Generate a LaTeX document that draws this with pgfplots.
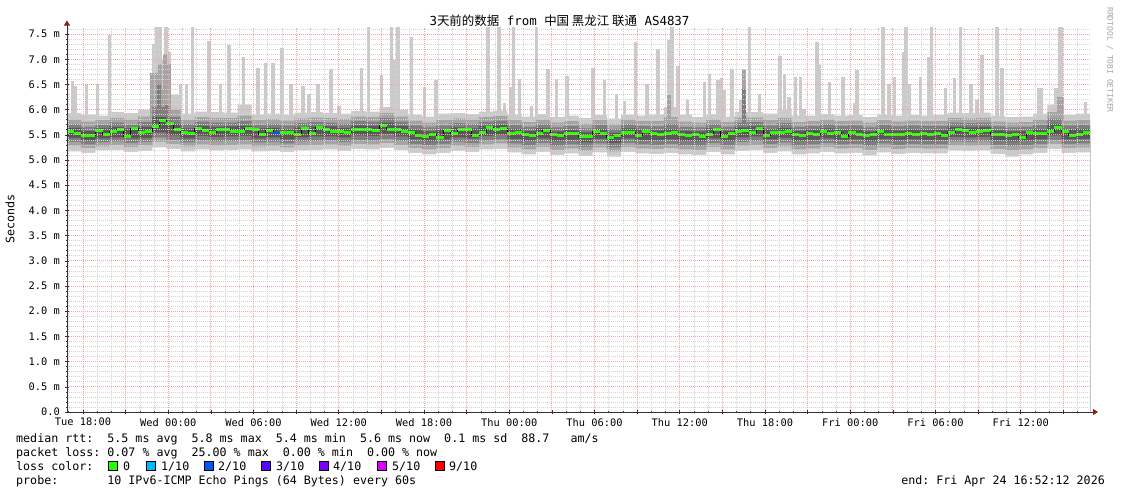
\documentclass[border=0pt]{standalone}
\usepackage{fontspec}
\setmainfont{DejaVu Sans Mono}
\newfontfamily\cjk{Noto Sans CJK SC}
\usepackage{pgfplots}
\usepackage{pgfplotstable}
\pgfplotsset{compat=1.18}
\usetikzlibrary{arrows.meta}

\definecolor{s1}{RGB}{202,202,202}
\definecolor{s2}{RGB}{164,164,164}
\definecolor{s3}{RGB}{126,126,126}
\definecolor{s4}{RGB}{88,88,88}
\definecolor{rttgreen}{RGB}{38,255,0}
\definecolor{loss1}{RGB}{0,184,255}
\definecolor{loss2}{RGB}{0,89,255}
\definecolor{loss3}{RGB}{94,0,255}
\definecolor{loss4}{RGB}{126,0,255}
\definecolor{loss5}{RGB}{221,0,255}
\definecolor{loss9}{RGB}{255,0,0}
\definecolor{gridred}{RGB}{250,165,165}
\definecolor{gridgray}{RGB}{212,212,212}
\definecolor{arrowred}{RGB}{140,30,30}

% x unit = one half-hour step, 0 = Tue 16:52, 144 = Fri 16:52
% smoke bands, one row per hour: ping 1,2,3,4 below and 7,8,9,10 above the median
\pgfplotstableread{
x p1 p2 p3 p4 p7 p8 p9 p10
0 5.17 5.28 5.36 5.44 5.64 5.71 5.80 5.93
2 5.14 5.24 5.31 5.39 5.58 5.66 5.76 5.90
4 5.19 5.27 5.35 5.43 5.63 5.70 5.79 5.88
6 5.20 5.30 5.37 5.45 5.66 5.74 5.83 5.95
8 5.16 5.26 5.34 5.43 5.63 5.70 5.80 5.93
10 5.18 5.29 5.36 5.44 5.66 5.75 5.86 6.00
12 5.25 5.36 5.45 5.55 5.85 6.05 6.40 7.00
14 5.22 5.32 5.40 5.49 5.72 5.85 6.00 6.30
16 5.17 5.27 5.35 5.43 5.63 5.71 5.80 5.92
18 5.21 5.31 5.39 5.48 5.68 5.76 5.85 5.96
20 5.19 5.29 5.37 5.46 5.66 5.74 5.83 5.95
22 5.20 5.30 5.38 5.47 5.67 5.74 5.83 5.94
24 5.21 5.31 5.39 5.48 5.68 5.77 5.88 6.10
26 5.17 5.27 5.35 5.43 5.63 5.70 5.79 5.90
28 5.18 5.28 5.36 5.45 5.64 5.72 5.81 5.92
30 5.16 5.25 5.33 5.41 5.61 5.69 5.78 5.90
32 5.19 5.29 5.37 5.45 5.65 5.73 5.82 5.94
34 5.20 5.30 5.38 5.47 5.67 5.75 5.84 5.95
36 5.21 5.31 5.39 5.47 5.67 5.74 5.83 5.93
38 5.18 5.28 5.36 5.45 5.64 5.72 5.81 5.92
40 5.22 5.32 5.40 5.49 5.69 5.77 5.86 5.97
42 5.21 5.31 5.39 5.48 5.68 5.76 5.85 5.96
44 5.24 5.34 5.42 5.52 5.74 5.83 5.93 6.05
46 5.20 5.30 5.38 5.47 5.68 5.76 5.86 6.00
48 5.14 5.24 5.32 5.41 5.61 5.69 5.78 5.90
50 5.11 5.21 5.29 5.37 5.57 5.65 5.74 5.86
52 5.14 5.24 5.32 5.41 5.61 5.69 5.79 5.92
54 5.18 5.28 5.36 5.45 5.65 5.73 5.82 5.93
56 5.16 5.26 5.34 5.43 5.63 5.71 5.80 5.91
58 5.21 5.31 5.39 5.48 5.68 5.76 5.85 5.96
60 5.22 5.33 5.41 5.50 5.70 5.78 5.87 5.98
62 5.15 5.25 5.33 5.42 5.62 5.70 5.79 5.90
64 5.11 5.21 5.29 5.38 5.58 5.66 5.75 5.86
66 5.16 5.26 5.34 5.43 5.63 5.71 5.80 5.91
68 5.10 5.20 5.28 5.37 5.57 5.65 5.74 5.85
70 5.13 5.23 5.31 5.40 5.60 5.68 5.77 5.88
72 5.08 5.18 5.26 5.35 5.55 5.63 5.72 5.83
74 5.15 5.25 5.33 5.42 5.62 5.70 5.79 5.89
76 5.07 5.17 5.25 5.34 5.54 5.62 5.71 5.82
78 5.16 5.26 5.34 5.43 5.63 5.71 5.80 5.90
80 5.13 5.23 5.31 5.40 5.60 5.68 5.77 5.88
82 5.12 5.22 5.30 5.39 5.59 5.67 5.77 5.90
84 5.14 5.24 5.32 5.41 5.62 5.72 5.85 6.05
86 5.11 5.21 5.29 5.38 5.58 5.66 5.76 5.90
88 5.10 5.20 5.28 5.37 5.57 5.65 5.74 5.85
90 5.16 5.26 5.34 5.43 5.63 5.71 5.80 5.91
92 5.11 5.21 5.29 5.38 5.58 5.66 5.75 5.86
94 5.18 5.28 5.36 5.45 5.65 5.74 5.84 5.95
96 5.20 5.30 5.38 5.47 5.67 5.75 5.84 5.95
98 5.14 5.24 5.32 5.41 5.61 5.69 5.79 5.92
100 5.17 5.27 5.35 5.44 5.64 5.73 5.83 6.00
102 5.11 5.21 5.29 5.38 5.58 5.66 5.75 5.88
104 5.13 5.23 5.31 5.40 5.60 5.68 5.77 5.88
106 5.16 5.26 5.34 5.43 5.63 5.71 5.80 5.91
108 5.13 5.23 5.31 5.40 5.60 5.68 5.77 5.88
110 5.14 5.24 5.32 5.41 5.61 5.69 5.78 5.89
112 5.09 5.20 5.28 5.37 5.57 5.65 5.74 5.85
114 5.15 5.25 5.33 5.42 5.62 5.70 5.79 5.90
116 5.12 5.22 5.30 5.39 5.59 5.67 5.76 5.88
118 5.14 5.24 5.32 5.41 5.61 5.69 5.78 5.89
120 5.13 5.23 5.31 5.40 5.60 5.68 5.77 5.88
122 5.13 5.23 5.31 5.40 5.60 5.68 5.77 5.89
124 5.19 5.29 5.37 5.46 5.66 5.74 5.83 5.94
126 5.18 5.28 5.36 5.45 5.65 5.73 5.82 5.93
128 5.19 5.29 5.37 5.46 5.66 5.74 5.83 5.94
130 5.12 5.22 5.30 5.39 5.59 5.67 5.76 5.87
132 5.07 5.19 5.28 5.37 5.57 5.65 5.74 5.85
134 5.11 5.21 5.29 5.38 5.58 5.66 5.75 5.86
136 5.14 5.24 5.32 5.41 5.61 5.70 5.80 5.92
138 5.22 5.32 5.40 5.49 5.72 5.82 5.95 6.10
140 5.14 5.24 5.32 5.41 5.61 5.69 5.78 5.89
142 5.15 5.25 5.33 5.42 5.62 5.70 5.79 5.92
144 5.15 5.25 5.33 5.42 5.62 5.70 5.79 5.92
}\tblsmoke

% median rtt, one row per half hour
\pgfplotstableread{
x m
0 5.57
1 5.52
2 5.48
3 5.49
4 5.58
5 5.51
6 5.56
7 5.60
8 5.47
9 5.62
10 5.55
11 5.56
12 5.66
13 5.78
14 5.72
15 5.60
16 5.55
17 5.53
18 5.62
19 5.58
20 5.55
21 5.60
22 5.60
23 5.56
24 5.56
25 5.63
26 5.60
27 5.50
28 5.58
29 5.53
30 5.55
31 5.54
32 5.51
33 5.63
34 5.53
35 5.64
36 5.60
37 5.57
38 5.57
39 5.54
40 5.60
41 5.61
42 5.60
43 5.58
44 5.68
45 5.60
46 5.60
47 5.56
48 5.55
49 5.48
50 5.47
51 5.50
52 5.45
53 5.58
54 5.52
55 5.60
56 5.60
57 5.48
58 5.54
59 5.64
60 5.60
61 5.62
62 5.52
63 5.54
64 5.50
65 5.48
66 5.52
67 5.58
68 5.50
69 5.48
70 5.52
71 5.53
72 5.47
73 5.47
74 5.56
75 5.52
76 5.45
77 5.48
78 5.55
79 5.55
80 5.48
81 5.56
82 5.53
83 5.50
84 5.52
85 5.54
86 5.50
87 5.49
88 5.50
89 5.47
90 5.50
91 5.60
92 5.46
93 5.53
94 5.56
95 5.58
96 5.55
97 5.62
98 5.49
99 5.55
100 5.54
101 5.56
102 5.50
103 5.48
104 5.52
105 5.50
106 5.57
107 5.52
108 5.55
109 5.47
110 5.54
111 5.51
112 5.48
113 5.50
114 5.56
115 5.50
116 5.50
117 5.50
118 5.52
119 5.51
120 5.52
121 5.50
122 5.53
123 5.49
124 5.54
125 5.60
126 5.58
127 5.55
128 5.56
129 5.58
130 5.50
131 5.50
132 5.49
133 5.50
134 5.45
135 5.54
136 5.52
137 5.53
138 5.57
139 5.65
140 5.56
141 5.49
142 5.51
143 5.55
144 5.55
}\tblmedian

% single slow pings (tops of the light smoke spikes)
\pgfplotstableread{
x top
0.77 6.56
1.20 6.46
2.74 6.51
4.29 6.51
5.98 7.48
12.18 7.30
12.67 7.64
13.16 7.64
13.94 7.64
14.36 7.15
15.13 6.14
15.98 6.50
16.82 6.50
17.67 7.64
19.99 7.37
21.61 6.51
22.80 7.28
24.85 7.05
26.89 6.82
27.94 6.93
29.00 6.93
30.26 7.23
31.53 6.51
33.22 6.46
34.07 6.31
35.33 6.51
37.16 6.80
38.29 6.07
41.45 6.82
42.44 7.64
44.27 6.69
45.68 7.64
46.03 6.98
46.59 7.64
48.49 7.45
50.32 6.45
51.94 6.58
59.26 7.64
60.81 7.64
61.58 6.13
62.43 6.45
62.85 7.64
63.70 6.60
65.39 6.07
66.09 7.64
67.71 6.80
68.90 6.60
70.38 6.67
74.04 6.82
75.66 6.58
77.35 6.32
78.48 6.18
80.03 7.35
81.64 6.51
83.19 7.20
84.74 7.38
85.16 7.64
86.01 6.86
87.35 6.20
89.74 6.55
90.44 6.70
91.64 6.58
92.13 6.63
92.48 6.39
93.61 6.80
94.88 6.20
95.30 6.80
96.07 7.64
97.48 6.31
100.37 7.06
101.00 6.70
101.63 6.26
102.55 6.65
103.25 6.65
103.74 6.02
105.57 7.35
105.92 6.89
107.33 6.54
109.23 6.64
110.84 6.13
111.20 6.78
114.86 7.64
115.71 6.51
116.48 6.65
117.75 7.15
118.10 7.64
118.52 6.51
120.14 6.65
121.27 7.05
121.69 7.64
123.66 6.43
124.92 6.63
125.77 7.64
127.25 6.51
128.10 6.20
128.80 7.08
130.91 7.64
131.62 6.82
136.82 6.43
137.12 6.43
139.22 6.43
139.70 7.64
140.00 7.64
143.37 6.16
}\tblspikes

\pgfplotstableread{
x top
11.97 6.73
12.53 6.73
13.09 6.90
13.79 7.10
14.36 6.90
84.74 6.30
95.30 6.78
139.64 6.25
140.06 6.25
}\tbldarkspikes

\pgfplotstableread{
x top
12.95 6.50
14.08 6.10
95.30 6.40
}\tbldarkerspikes

\newcommand\legfont{\fontsize{11.7}{14}\selectfont}
\tikzset{mingrid/.style={gridgray, dash pattern=on 1bp off 1bp, line width=0.6bp},
         majgrid/.style={gridred, dash pattern=on 1bp off 1bp, line width=0.8bp}}

\begin{document}
\frenchspacing
\begin{tikzpicture}
\useasboundingbox (-67bp,-82bp) rectangle (1054bp,412bp);
\begin{axis}[
  at={(0,0)}, anchor=south west,
  scale only axis, width=1023bp, height=384.5bp,
  xmin=0, xmax=144, ymin=0, ymax=7.63,
  axis on top,
  axis lines=left,
  axis line style={draw=black!80, line width=0.8bp},
  x axis line style={-{Triangle[length=5bp,width=6bp,color=arrowred]}, shorten >=-8bp},
  y axis line style={-{Triangle[length=5bp,width=6bp,color=arrowred]}, shorten >=-7bp},
  xtick={2.25,8.25,...,140.25},
  xticklabels={Tue 18:00,,Wed 00:00,,Wed 06:00,,Wed 12:00,,Wed 18:00,,Thu 00:00,,Thu 06:00,,Thu 12:00,,Thu 18:00,,Fri 00:00,,Fri 06:00,,Fri 12:00,},
  minor xtick={0.25,4.25,6.25,10.25,12.25,16.25,18.25,22.25,24.25,28.25,30.25,34.25,36.25,40.25,42.25,46.25,48.25,52.25,54.25,58.25,60.25,64.25,66.25,70.25,72.25,76.25,78.25,82.25,84.25,88.25,90.25,94.25,96.25,100.25,102.25,106.25,108.25,112.25,114.25,118.25,120.25,124.25,126.25,130.25,132.25,136.25,138.25,142.25},
  ytick={0,0.5,...,7.5},
  yticklabels={0.0,0.5 m,1.0 m,1.5 m,2.0 m,2.5 m,3.0 m,3.5 m,4.0 m,4.5 m,5.0 m,5.5 m,6.0 m,6.5 m,7.0 m,7.5 m},
  minor y tick num=4,
  tick align=center, major tick length=4bp, minor tick length=2bp,
  major tick style={black!80, line width=0.6bp},
  minor tick style={black!80, line width=0.6bp},
  ticklabel style={font=\fontsize{10.4}{12}\selectfont, inner sep=0pt},
  xticklabel style={anchor=north, yshift=-4bp},
  yticklabel style={anchor=east, xshift=-5bp},
]
% light spikes first, then the bands painted over them from the outside in
\addplot[forget plot, draw=s1, line width=3.5bp, mark=none, -,
  quiver={u=0, v=\thisrow{top}-5.6}] table[x=x, y expr=5.6] {\tblspikes};
\addplot[fill=s1, draw=none, const plot mark left, forget plot] table[x=x, y=p10] {\tblsmoke} \closedcycle;
\addplot[forget plot, draw=s2, line width=3.5bp, mark=none, -,
  quiver={u=0, v=\thisrow{top}-5.6}] table[x=x, y expr=5.6] {\tbldarkspikes};
\addplot[fill=s2, draw=none, const plot mark left, forget plot] table[x=x, y=p9] {\tblsmoke} \closedcycle;
\addplot[forget plot, draw=s3, line width=3.5bp, mark=none, -,
  quiver={u=0, v=\thisrow{top}-5.6}] table[x=x, y expr=5.6] {\tbldarkerspikes};
\addplot[fill=s3, draw=none, const plot mark left, forget plot] table[x=x, y=p8] {\tblsmoke} \closedcycle;
\addplot[fill=s4, draw=none, const plot mark left, forget plot] table[x=x, y=p7] {\tblsmoke} \closedcycle;
\addplot[fill=s3, draw=none, const plot mark left, forget plot] table[x=x, y=p4] {\tblsmoke} \closedcycle;
\addplot[fill=s2, draw=none, const plot mark left, forget plot] table[x=x, y=p3] {\tblsmoke} \closedcycle;
\addplot[fill=s1, draw=none, const plot mark left, forget plot] table[x=x, y=p2] {\tblsmoke} \closedcycle;
\addplot[fill=white, draw=none, const plot mark left, forget plot] table[x=x, y=p1] {\tblsmoke} \closedcycle;

% median rtt: black steps with green segments (loss colour)
\addplot[black, line width=1bp, const plot mark left, mark=none] table[x=x, y=m] {\tblmedian};
\addplot[rttgreen, line width=3bp, jump mark left, mark=none] table[x=x, y=m] {\tblmedian};
\addplot[loss2, line width=3bp, jump mark left, mark=none] coordinates {(29,5.53) (30,5.53)};

% dotted grid over the graph, as rrdtool draws it; minor lines skip the major ones
\pgfplotsinvokeforeach{0,0.5,...,7.0}{
  \draw[mingrid] (axis cs:0,{#1+0.1}) -- (axis cs:144,{#1+0.1});
  \draw[mingrid] (axis cs:0,{#1+0.2}) -- (axis cs:144,{#1+0.2});
  \draw[mingrid] (axis cs:0,{#1+0.3}) -- (axis cs:144,{#1+0.3});
  \draw[mingrid] (axis cs:0,{#1+0.4}) -- (axis cs:144,{#1+0.4});}
\draw[mingrid] (axis cs:0,7.6) -- (axis cs:144,7.6);
\pgfplotsinvokeforeach{2.25,8.25,...,134.25}{
  \draw[mingrid] (axis cs:{#1+2},0) -- (axis cs:{#1+2},7.63);
  \draw[mingrid] (axis cs:{#1+4},0) -- (axis cs:{#1+4},7.63);}
\draw[mingrid] (axis cs:0.25,0) -- (axis cs:0.25,7.63);
\draw[mingrid] (axis cs:142.25,0) -- (axis cs:142.25,7.63);
\pgfplotsinvokeforeach{0.5,1.0,...,7.5}{
  \draw[majgrid] (axis cs:0,#1) -- (axis cs:144,#1);}
\pgfplotsinvokeforeach{2.25,8.25,...,140.25}{
  \draw[majgrid] (axis cs:#1,0) -- (axis cs:#1,7.63);}
\end{axis}

\node[anchor=base, font=\fontsize{12.5}{15}\selectfont] at (492.5bp,386bp)
  {3{\cjk 天前的数据} from {\cjk 中国 黑龙江 联通} AS4837};
\node[rotate=90, font=\legfont] at (-57bp,193bp) {Seconds};
\node[rotate=-90, text=black!35, font=\fontsize{8}{9}\selectfont] at (1043bp,352bp) {RRDTOOL / TOBI OETIKER};

\node[anchor=base west, inner sep=0pt, font=\legfont] at (-51bp,-30bp)
  {median~rtt:~~5.5~ms~avg~~5.8~ms~max~~5.4~ms~min~~5.6~ms~now~~0.1~ms~sd~~88.7~~~am/s};
\node[anchor=base west, inner sep=0pt, font=\legfont] at (-51bp,-44bp)
  {packet~loss:~0.07~\%~avg~~25.00~\%~max~~0.00~\%~min~~0.00~\%~now};
\node[anchor=base west, inner sep=0pt, font=\legfont] at (-51bp,-58bp) {loss~color:};
\foreach \bx/\col in {41/rttgreen, 79/loss1, 137/loss2, 194/loss3, 252/loss4, 310/loss5, 368/loss9}{
  \draw[fill=\col, draw=black, line width=0.8bp] (\bx bp,-58bp) rectangle ++(9bp,9bp);
}
\foreach \lx/\txt in {56/0, 94/1, 151/2, 209/3, 266/4, 325/5, 382/9}{
  \node[anchor=base west, inner sep=0pt, font=\legfont] at (\lx bp,-58bp) {\ifnum\txt=0 0\else\txt/10\fi};
}
\node[anchor=base west, inner sep=0pt, font=\legfont] at (-51bp,-72bp)
  {probe:~~~~~~~10~IPv6-ICMP~Echo~Pings~(64~Bytes)~every~60s};
\node[anchor=base east, inner sep=0pt, font=\legfont] at (1038bp,-72bp)
  {end:~Fri~Apr~24~16:52:12~2026};
\end{tikzpicture}
\end{document}
